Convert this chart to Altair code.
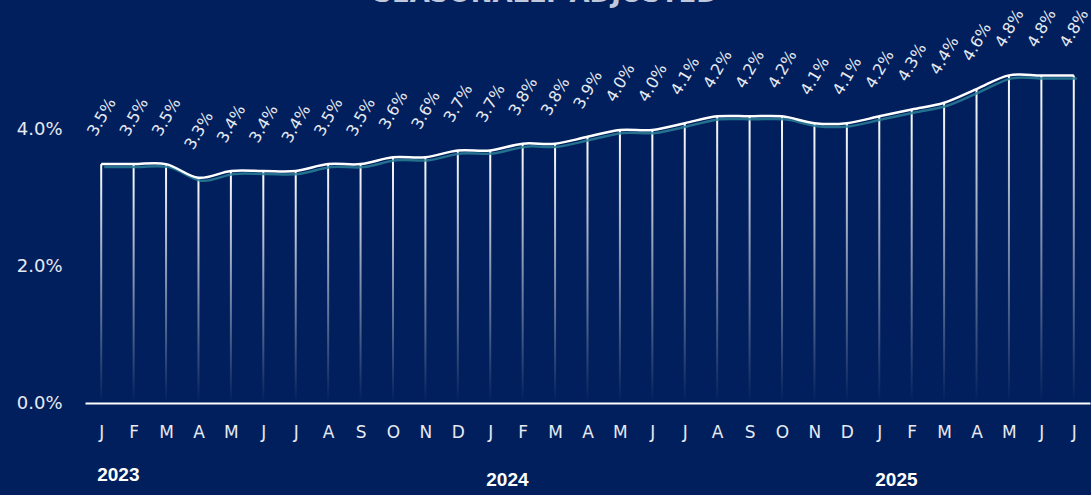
import json
import altair as alt
import pandas as pd

# Monthly rate, Jan 2023 - Jul 2025 (seasonally adjusted, %)
periods = (
    [f"2023-{m:02d}" for m in range(1, 13)]
    + [f"2024-{m:02d}" for m in range(1, 13)]
    + [f"2025-{m:02d}" for m in range(1, 8)]
)
month_initials = ["J", "F", "M", "A", "M", "J", "J", "A", "S", "O", "N", "D"]
rates = [
    3.5, 3.5, 3.5, 3.3, 3.4, 3.4, 3.4, 3.5, 3.5, 3.6, 3.6, 3.7,
    3.7, 3.8, 3.8, 3.9, 4.0, 4.0, 4.1, 4.2, 4.2, 4.2, 4.1, 4.1,
    4.2, 4.3, 4.4, 4.6, 4.8, 4.8, 4.8,
]
y_ticks = [0, 2, 4]

BG = "#011f5c"
TEXT = "#e6eaf2"
SHADOW = "#2a7f98"

df = pd.DataFrame({
    "idx": list(range(len(periods))),
    "period": periods,
    "year": [p[:4] for p in periods],
    "month": [int(p[5:]) for p in periods],
    "rate": rates,
})
df["label"] = [f"{r:.1f}%" for r in df["rate"]]

initials_js = json.dumps([month_initials[m - 1] for m in df["month"]])

x_enc = alt.X(
    "idx:Q",
    scale=alt.Scale(domain=[-0.5, len(periods) - 0.5], nice=False, zero=False, padding=0),
    axis=alt.Axis(
        values=list(df["idx"]),
        labelExpr=f"{initials_js}[datum.value]",
        title=None,
        grid=False,
        ticks=False,
        tickSize=0,
        domain=True,
        domainColor="#ffffff",
        domainWidth=2,
        labelPadding=21,
        labelFont="DejaVu Sans",
        labelFontSize=17,
        labelColor=TEXT,
        labelFlush=False,
        labelOverlap=False,
    ),
)
y_enc = alt.Y(
    "rate:Q",
    scale=alt.Scale(domain=[0, 5.465], nice=False, zero=True, padding=0),
    axis=alt.Axis(
        values=y_ticks,
        labelExpr="format(datum.value, '.1f') + '%'",
        title=None,
        grid=False,
        ticks=False,
        tickSize=0,
        domain=False,
        labelPadding=23,
        labelFont="DejaVu Sans",
        labelFontSize=18,
        labelColor=TEXT,
    ),
)

base = alt.Chart(df)

# Thin drop lines from each point down to zero, fading towards the baseline
fade = alt.LinearGradient(
    gradient="linear",
    x1=0, y1=0, x2=0, y2=1,
    stops=[
        alt.GradientStop(color="rgba(255,255,255,1)", offset=0),
        alt.GradientStop(color="rgba(255,255,255,0.55)", offset=0.45),
        alt.GradientStop(color="rgba(255,255,255,0)", offset=1),
    ],
)
drops = base.mark_bar(size=2, fill=fade).encode(x=x_enc, y=y_enc)

shadow = base.mark_line(
    interpolate="cardinal", color=SHADOW, strokeWidth=2.5, opacity=0.85,
    xOffset=3, yOffset=3,
).encode(x=x_enc, y=y_enc)

line = base.mark_line(
    interpolate="cardinal", color="#ffffff", strokeWidth=2.5,
).encode(x=x_enc, y=y_enc)

labels = base.mark_text(
    angle=300, align="center", baseline="middle", dx=41, dy=-23,
    font="DejaVu Sans", fontSize=16, color=TEXT,
).encode(x=x_enc, y=y_enc, text="label:N")

years = base.transform_filter("datum.month == 1").mark_text(
    align="left", baseline="middle", dx=-4,
    yOffset=alt.expr("datum.year == '2023' ? -5 : 0"),
    font="Liberation Sans", fontWeight="bold", fontSize=19, color="#ffffff",
).encode(x=x_enc, y=alt.value(450), text="year:N")

chart = (
    alt.layer(drops, shadow, line, labels, years)
    .properties(
        width=1005,
        height=373,
        title=alt.TitleParams(
            "SEASONALLY ADJUSTED",
            font="DejaVu Sans", fontSize=26, fontWeight="bold",
            color="#c0c8dc", anchor="middle", frame="group",
            offset=0, dx=-42,
        ),
        background=BG,
        padding={"left": 85, "top": 30, "right": 1, "bottom": 92},
        autosize=alt.AutoSizeParams(type="none"),
    )
    .configure_view(stroke=None)
)

chart.save("out.html", embed_options={"renderer": "svg", "actions": False})
